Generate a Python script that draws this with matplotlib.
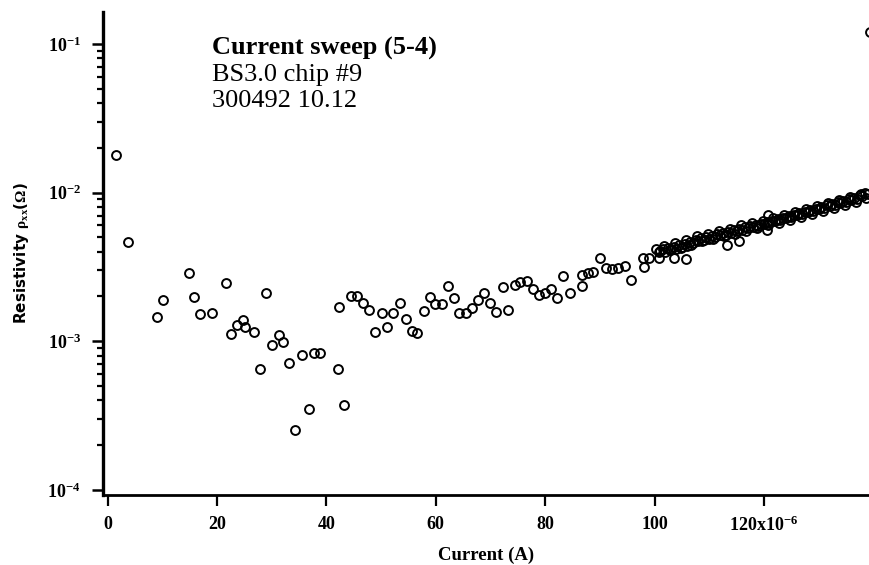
import matplotlib
matplotlib.use("Agg")
import matplotlib.pyplot as plt
from matplotlib.ticker import FixedLocator, LogLocator, NullFormatter

# Sparse low-current points (current in units of 1e-6 A)
current_low = [1.6, 3.7, 9.1, 10.2, 14.8, 15.7, 16.8, 19.0, 21.6, 22.6,
               23.7, 24.7, 25.2, 26.7, 27.9, 29.0, 30.1, 31.4, 32.1, 33.2,
               34.2, 35.6, 36.8, 37.8, 38.8, 42.3, 42.2, 43.2, 44.5, 45.6,
               46.6, 47.7, 48.9, 50.1, 51.1, 52.2, 53.4, 54.6, 55.6, 56.6,
               57.8, 58.9, 59.9, 61.1, 62.3, 63.3, 64.3, 65.5, 66.7, 67.8,
               68.9, 69.9, 71.1, 72.2, 73.2, 74.4, 75.4, 76.7, 77.7, 78.8,
               79.9, 81.0, 82.2, 83.3, 84.5, 86.7, 86.8, 87.9, 88.8, 90.0,
               91.1, 92.2, 93.4, 94.6, 95.7, 97.8, 98.0, 99.0, 100.2, 100.8]
rho_low = [0.0179, 0.00464, 0.00145, 0.00189, 0.00287, 0.00198, 0.00152, 0.00155, 0.00246, 0.00111,
           0.00128, 0.00138, 0.00124, 0.00115, 0.000646, 0.0021, 0.00094, 0.0011, 0.000985, 0.00071,
           0.000251, 0.000813, 0.000352, 0.000839, 0.000839, 0.0017, 0.000651, 0.000371, 0.002, 0.002,
           0.00182, 0.00163, 0.00116, 0.00154, 0.00125, 0.00155, 0.00181, 0.00142, 0.00117, 0.00114,
           0.00159, 0.00199, 0.00177, 0.00177, 0.00236, 0.00196, 0.00155, 0.00155, 0.00166, 0.00189,
           0.00211, 0.0018, 0.00157, 0.00232, 0.00162, 0.00238, 0.00251, 0.00254, 0.00226, 0.00206,
           0.00211, 0.00226, 0.00196, 0.00275, 0.00211, 0.00234, 0.00278, 0.00288, 0.00293, 0.0036,
           0.00313, 0.00304, 0.00313, 0.00322, 0.00258, 0.0036, 0.00316, 0.0036, 0.00414, 0.0036]

# Dense high-current band, first sweep
current_high = [101.0, 101.5, 102.0, 102.5, 103.0, 103.5, 104.0, 104.5, 105.0, 105.5,
                106.0, 106.5, 107.0, 107.5, 108.0, 108.5, 109.0, 109.5, 110.0, 110.5,
                111.0, 111.5, 112.0, 112.5, 113.0, 113.5, 114.0, 114.5, 115.0, 115.5,
                116.0, 116.5, 117.0, 117.5, 118.0, 118.5, 119.0, 119.5, 120.0, 120.5,
                121.0, 121.5, 122.0, 122.5, 123.0, 123.5, 124.0, 124.5, 125.0, 125.5,
                126.0, 126.5, 127.0, 127.5, 128.0, 128.5, 129.0, 129.5, 130.0, 130.5,
                131.0, 131.5, 132.0, 132.5, 133.0, 133.5, 134.0, 134.5, 135.0, 135.5,
                136.0, 136.5, 137.0, 137.5, 138.0, 138.5, 139.0]
rho_high = [0.00405, 0.00420, 0.00398, 0.00425, 0.00415, 0.00432, 0.00420, 0.00445, 0.00430, 0.00452,
            0.00440, 0.00465, 0.00455, 0.00478, 0.00470, 0.00495, 0.00480, 0.00500, 0.00490, 0.00512,
            0.00500, 0.00522, 0.00515, 0.00535, 0.00520, 0.00545, 0.00535, 0.00558, 0.00548, 0.00570,
            0.00560, 0.00582, 0.00575, 0.00595, 0.00585, 0.00605, 0.00598, 0.00618, 0.00610, 0.00632,
            0.00625, 0.00648, 0.00640, 0.00662, 0.00655, 0.00678, 0.00670, 0.00695, 0.00688, 0.00710,
            0.00702, 0.00728, 0.00720, 0.00745, 0.00738, 0.00762, 0.00755, 0.00780, 0.00772, 0.00800,
            0.00792, 0.00818, 0.00810, 0.00838, 0.00830, 0.00858, 0.00850, 0.00878, 0.00870, 0.00898,
            0.00890, 0.00918, 0.00910, 0.00955, 0.00945, 0.00985, 0.00975]

# Dense high-current band, second sweep
current_high2 = [100.75, 101.75, 102.75, 103.75, 104.75, 105.75, 106.75, 107.75, 108.75, 109.75,
                 110.75, 111.75, 112.75, 113.75, 114.75, 115.75, 116.75, 117.75, 118.75, 119.75,
                 120.75, 121.75, 122.75, 123.75, 124.75, 125.75, 126.75, 127.75, 128.75, 129.75,
                 130.75, 131.75, 132.75, 133.75, 134.75, 135.75, 136.75, 137.75, 138.75]
rho_high2 = [0.00396, 0.00440, 0.00408, 0.00458, 0.00425, 0.00478, 0.00445, 0.00512, 0.00470, 0.00528,
             0.00490, 0.00553, 0.00510, 0.00572, 0.00530, 0.00600, 0.00555, 0.00622, 0.00578, 0.00648,
             0.00600, 0.00675, 0.00628, 0.00708, 0.00655, 0.00740, 0.00685, 0.00775, 0.00715, 0.00808,
             0.00750, 0.00845, 0.00785, 0.00885, 0.00825, 0.00928, 0.00865, 0.00975, 0.00915]

# Outliers around the band
current_out = [103.6, 105.8, 113.2, 115.4, 120.5, 120.7, 139.4]
rho_out = [0.0036, 0.00356, 0.00443, 0.00473, 0.00559, 0.00705, 0.12]

x_ticks = [0, 20, 40, 60, 80, 100, 120]
x_tick_labels = ["0", "20", "40", "60", "80", "100", r"120x10$^{-6}$"]
y_ticks = [1e-4, 1e-3, 1e-2, 1e-1]
y_tick_labels = [r"10$^{-4}$", r"10$^{-3}$", r"10$^{-2}$", r"10$^{-1}$"]
annotation_lines = ["Current sweep (5-4)", "BS3.0 chip #9", "300492 10.12"]

serif = ["Liberation Serif", "DejaVu Serif"]
plt.rcParams["mathtext.fontset"] = "custom"
plt.rcParams["mathtext.rm"] = "Liberation Serif:bold"
plt.rcParams["mathtext.it"] = "Liberation Serif:bold"

fig = plt.figure(figsize=(8.7, 5.65), dpi=100)
ax = fig.add_axes([0.1184, 0.124, 0.8816, 0.855])

mk = dict(linestyle="none", marker="o", markersize=6.4, markerfacecolor="none",
          markeredgecolor="black", markeredgewidth=1.4)
ax.plot(current_low, rho_low, **mk)
ax.plot(current_high, rho_high, **mk)
ax.plot(current_high2, rho_high2, **mk)
ax.plot(current_out, rho_out, clip_on=True, **mk)

ax.set_yscale("log")
ax.set_xlim(-0.85, 139.4)
ax.set_ylim(0.925e-4, 0.164)

for s in ("top", "right"):
    ax.spines[s].set_visible(False)
ax.spines["left"].set_linewidth(2.4)
ax.spines["bottom"].set_linewidth(2.0)

ax.xaxis.set_major_locator(FixedLocator(x_ticks))
ax.set_xticklabels(x_tick_labels, fontfamily=serif, fontweight="bold", fontsize=13)
ax.yaxis.set_major_locator(FixedLocator(y_ticks))
ax.set_yticklabels(y_tick_labels, fontfamily=serif, fontweight="bold", fontsize=13)
ax.yaxis.set_minor_locator(LogLocator(base=10, subs=range(2, 10)))
ax.yaxis.set_minor_formatter(NullFormatter())

ax.tick_params(axis="x", which="major", direction="out", length=8, width=1.6, pad=7)
ax.tick_params(axis="y", which="major", direction="out", length=8, width=1.8, pad=8)
ax.tick_params(axis="y", which="minor", direction="out", length=4.5, width=1.6)

ax.set_xlabel("Current (A)", fontfamily=serif, fontweight="bold", fontsize=13.5, labelpad=8)
ax.set_ylabel(r"Resistivity $\rho_{xx}$($\Omega$)", fontfamily="DejaVu Sans",
              fontweight="bold", fontsize=11, labelpad=12)

ax.text(0.142, 0.911, annotation_lines[0], transform=ax.transAxes,
        fontfamily=serif, fontweight="bold", fontsize=19, va="baseline")
for i, line in enumerate(annotation_lines[1:]):
    ax.text(0.142, 0.857 - 0.053 * i, line, transform=ax.transAxes,
            fontfamily=serif, fontsize=19, va="baseline")

fig.savefig("out.png", dpi=100)
